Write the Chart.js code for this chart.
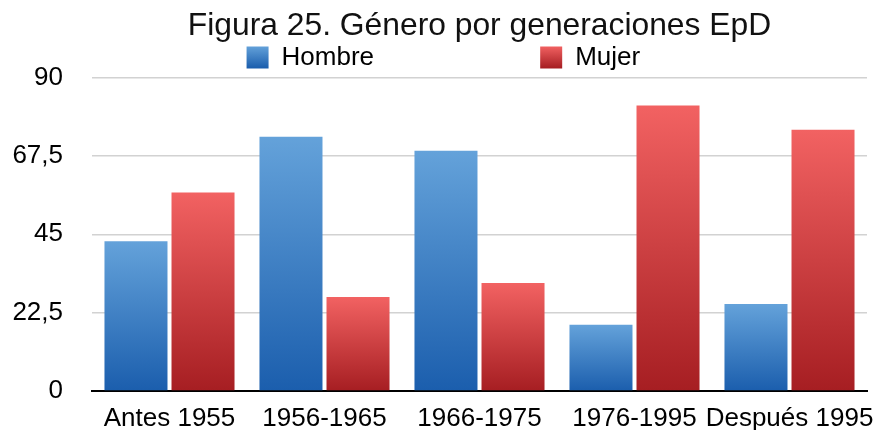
<!DOCTYPE html>
<html>
<head>
<meta charset="utf-8">
<script src="https://cdn.jsdelivr.net/npm/chart.js@4/dist/chart.umd.min.js"></script>
<style>
  body { margin: 0; background: #fff; }
  #wrap { width: 876px; height: 430px; }
</style>
</head>
<body>
<div id="wrap"><canvas id="myChart"></canvas></div>
<script>
// categories and values
const labels = ['Antes 1955', '1956-1965', '1966-1975', '1976-1995', 'Después 1995'];
const hombre = [43, 73, 69, 19, 25];
const mujer = [57, 27, 31, 82, 75];
const seriesNames = ['Hombre', 'Mujer'];
const yTicks = [0, 22.5, 45, 67.5, 90];

const blueTop = '#64a2da', blueBottom = '#1b5ead';
const redTop = '#f26262', redBottom = '#a61e22';

Chart.defaults.font.family = '"Liberation Sans", Arial, sans-serif';
Chart.defaults.color = '#000';

// each bar gets its own gradient, light at top, dark at the base
function barGradient(top, bottom) {
  return function (ctx) {
    const chart = ctx.chart;
    if (!chart.chartArea || ctx.type !== 'data') return bottom;
    const y = chart.scales.y;
    const yTop = y.getPixelForValue(ctx.raw);
    const yBase = y.getPixelForValue(0);
    const g = chart.ctx.createLinearGradient(0, yTop, 0, yBase);
    g.addColorStop(0, top);
    g.addColorStop(1, bottom);
    return g;
  };
}

function legendGradient(ctx, top, bottom) {
  const g = ctx.createLinearGradient(0, 46, 0, 68);
  g.addColorStop(0, top);
  g.addColorStop(1, bottom);
  return g;
}

const data = {
  labels: labels,
  datasets: [{
    label: seriesNames[0],
    data: hombre,
    backgroundColor: barGradient(blueTop, blueBottom),
    borderWidth: 0
  }, {
    label: seriesNames[1],
    data: mujer,
    backgroundColor: barGradient(redTop, redBottom),
    borderWidth: 0
  }]
};

const config = {
  type: 'bar',
  data: data,
  options: {
    responsive: true,
    maintainAspectRatio: false,
    animation: false,
    datasets: {
      bar: {
        categoryPercentage: 0.865,
        barPercentage: 0.94
      }
    },
    layout: {
      padding: { left: 12, right: 9, top: 0, bottom: 0 }
    },
    scales: {
      x: {
        grid: { display: false, drawTicks: false },
        border: { display: true, color: '#000', width: 2 },
        ticks: {
          font: { size: 26, lineHeight: 1.0 },
          color: '#000',
          padding: 15,
          maxRotation: 0,
          autoSkip: false
        },
        // last label may hang past the plot edge like in the original
        afterFit: function (axis) {
          axis.height = 39;
          axis.paddingLeft = 0;
          axis.paddingRight = 0;
        }
      },
      y: {
        min: 0,
        max: 90,
        afterBuildTicks: function (axis) {
          axis.ticks = yTicks.map(v => ({ value: v }));
        },
        // the big tick padding should not push the plot away from the edges
        afterFit: function (axis) {
          axis.width = 80;
          axis.paddingTop = 0;
          axis.paddingBottom = 0;
        },
        grid: { color: '#d2d2d2', lineWidth: 1.5, drawTicks: false },
        border: { display: false },
        ticks: {
          font: { size: 26 },
          color: '#000',
          padding: 29,
          callback: function (value) {
            return String(value).replace('.', ',');
          }
        }
      }
    },
    plugins: {
      title: {
        display: true,
        fullSize: false,
        text: 'Figura 25. Género por generaciones EpD',
        color: '#111',
        font: { size: 31.8, weight: 'normal', lineHeight: 1.15 },
        padding: { top: 8, bottom: 0 }
      },
      legend: {
        display: true,
        fullSize: false,
        maxHeight: 33,
        labels: {
          padding: 0,
          boxWidth: 22,
          boxHeight: 22,
          color: '#000',
          font: { size: 26 },
          generateLabels: function (chart) {
            const tops = [blueTop, redTop];
            const bottoms = [blueBottom, redBottom];
            // trailing spaces only set the gap between the two items
            const pad = [23, 10];
            return chart.data.datasets.map(function (ds, i) {
              return {
                text: ds.label + ' '.repeat(pad[i]),
                fillStyle: legendGradient(chart.ctx, tops[i], bottoms[i]),
                strokeStyle: 'rgba(0,0,0,0)',
                lineWidth: 0,
                hidden: false,
                datasetIndex: i
              };
            });
          }
        }
      },
      tooltip: { enabled: false }
    }
  }
};

const myChart = new Chart(document.getElementById('myChart'), config);
</script>
</body>
</html>
